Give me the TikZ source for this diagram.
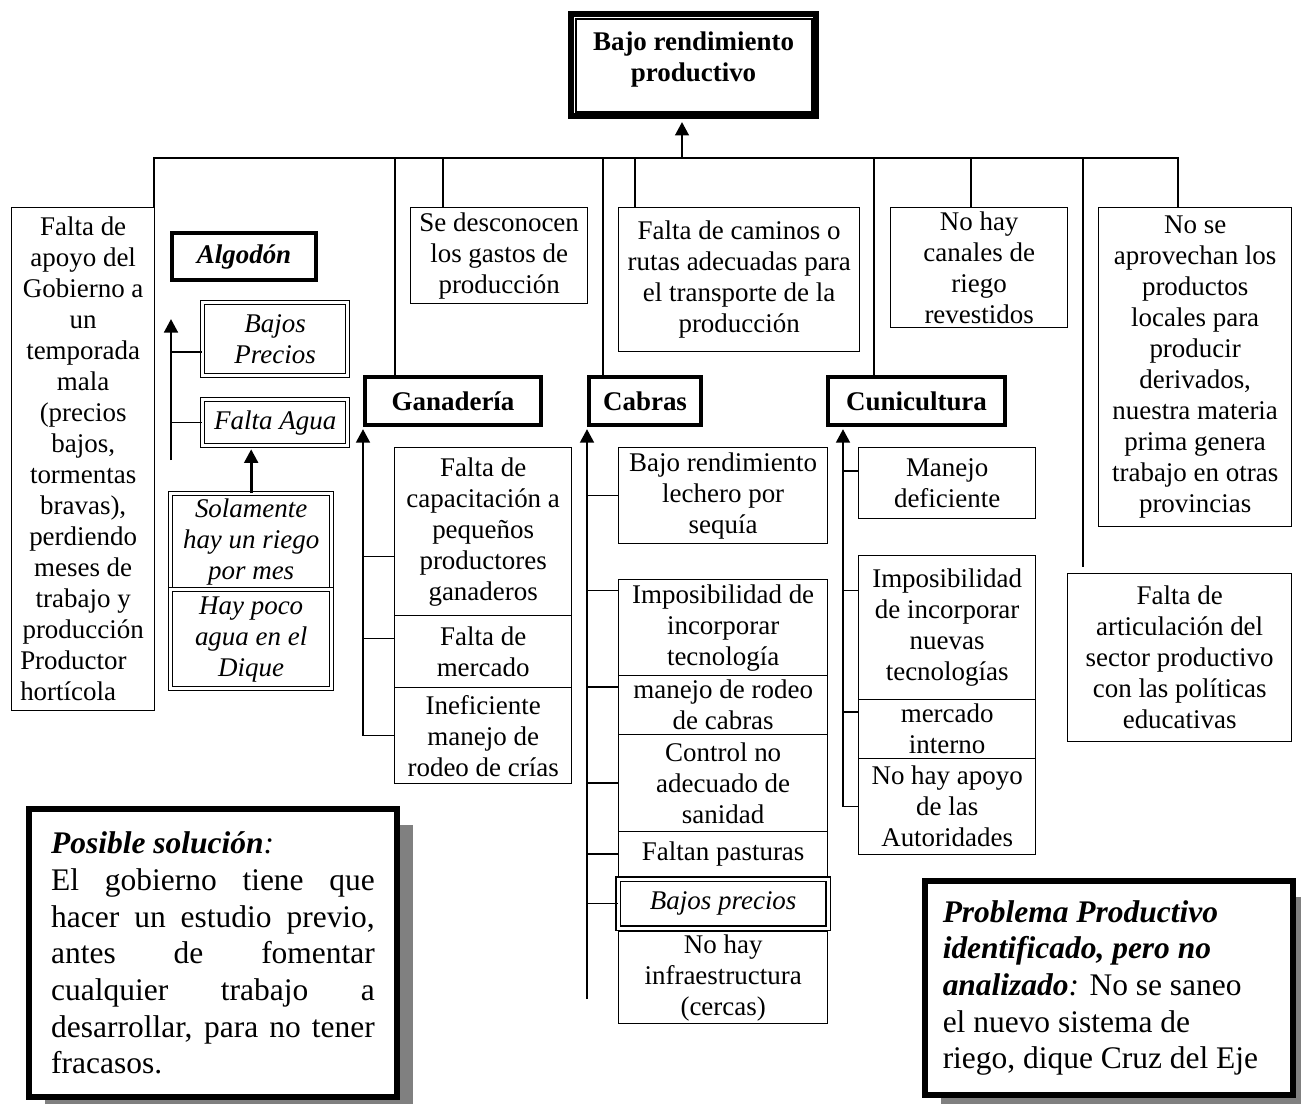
\documentclass[tikz,border=0pt]{standalone}
\usepackage{fontspec}
\setmainfont{Liberation Serif}
\usetikzlibrary{calc,arrows.meta,shadows}
\newlength\px
\setlength\px{0.445pt}
\tikzset{
caja/.style={
  draw,
  line width=0.6pt,
  align=center,
  inner sep=0pt,
  anchor=north west,
  font=\fontsize{12}{13.8}\selectfont
  },
tam/.style 2 args={minimum width=#1\px, minimum height=#2\px},
marco/.style={caja, line width=2.7pt, font=\fontsize{12}{13.8}\selectfont\bfseries},
grupo/.style={caja, line width=1.8pt, font=\fontsize{12}{13.8}\selectfont\bfseries},
doble/.style={caja, double, double distance=1.2pt, font=\fontsize{12}{13.8}\selectfont\itshape},
nota/.style={caja, line width=2.7pt, fill=white, align=flush left,
  font=\fontsize{14}{16.3}\selectfont,
  drop shadow={shadow xshift=7pt, shadow yshift=-7pt, fill=black!50, opacity=1}},
flecha/.style={line width=1.3pt, -{Triangle[width=6pt,length=6pt]}, shorten >=0.9pt},
linea/.style={line width=0.7pt}
}
\begin{document}
\begin{tikzpicture}[x=0.445pt, y=-0.445pt]
    \useasboundingbox (0,0) rectangle (1301,1104);
    \node [marco, tam={245}{102}] (raiz) at (568,11)
        {\parbox[c][66\px][t]{230\px}{\centering Bajo rendimiento\\productivo}};
    \draw [line width=0.7pt] ($(raiz.north west)+(8,8)$) rectangle ($(raiz.south east)+(-7,-7)$);

    % fila de arriba
    \node [caja, tam={143}{503}] (apoyo) at (11,207)
        {Falta de\\apoyo del\\Gobierno a\\un\\temporada\\mala\\(precios\\bajos,\\tormentas\\bravas),\\perdiendo\\meses de\\trabajo y\\producción\\\makebox[56pt][l]{Productor}\\\makebox[56pt][l]{hortícola}};
    \node [caja, tam={177}{96}] (desc) at (410,207) {Se desconocen\\los gastos de\\producción};
    \node [caja, tam={241}{144}] (cam) at (618,207) {Falta de caminos o\\rutas adecuadas para\\el transporte de la\\producción};
    \node [caja, tam={177}{120}] (can) at (890,207) {No hay\\canales de\\riego\\revestidos};
    \node [caja, tam={193}{319}] (aprov) at (1098,207)
        {No se\\aprovechan los\\productos\\locales para\\producir\\derivados,\\nuestra materia\\prima genera\\trabajo en otras\\provincias};
    \node [caja, tam={224}{168}] (art) at (1067,573) {Falta de\\articulación del\\sector productivo\\con las políticas\\educativas};

    % algodon
    \node [grupo, tam={144}{47}] (alg) at (170,231) {\textit{Algodón}};
    \node [doble, tam={145}{73}] (bp) at (202,302) {Bajos\\Precios};
    \node [doble, tam={145}{46}] (fa) at (202,399) {Falta Agua};
    \node [doble, tam={161}{96}] (sol) at (170,493) {Solamente\\hay un riego\\por mes};
    \node [doble, tam={161}{99}] (hay) at (170,589) {Hay poco\\agua en el\\Dique};

    % ganaderia
    \node [grupo, tam={176}{48}] (gan) at (363,375) {Ganadería};
    \node [caja, tam={177}{168}] (g1) at (394,447) {Falta de\\capacitación a\\pequeños\\productores\\ganaderos};
    \node [caja, tam={177}{72}] (g2) at (394,615) {Falta de\\mercado};
    \node [caja, tam={177}{96}] (g3) at (394,687) {Ineficiente\\manejo de\\rodeo de crías};

    % cabras
    \node [grupo, tam={112}{48}] (cab) at (587,375) {Cabras};
    \node [caja, tam={209}{96}] (c1) at (618,447) {Bajo rendimiento\\lechero por\\sequía};
    \node [caja, tam={209}{96}] (c2) at (618,579) {Imposibilidad de\\incorporar\\tecnología};
    \node [caja, tam={209}{59}] (c3) at (618,675) {manejo de rodeo\\de cabras};
    \node [caja, tam={209}{97}] (c4) at (618,734) {Control no\\adecuado de\\sanidad};
    \node [caja, tam={209}{45}] (c5) at (618,831) {Faltan pasturas};
    \node [caja, tam={209}{92}] (c7) at (618,931) {No hay\\infraestructura\\(cercas)};
    \node [doble, tam={210}{49}] (c6) at (617.5,878.5) {Bajos precios};

    % cunicultura
    \node [grupo, tam={177}{48}] (cuni) at (826,375) {Cunicultura};
    \node [caja, tam={177}{71}] (k1) at (858,447) {Manejo\\deficiente};
    \node [caja, tam={177}{144}] (k2) at (858,555) {Imposibilidad\\de incorporar\\nuevas\\tecnologías};
    \node [caja, tam={177}{59}] (k3) at (858,699) {mercado\\interno};
    \node [caja, tam={177}{96}] (k4) at (858,758) {No hay apoyo\\de las\\Autoridades};

    % notas
    \node [nota, align=justify, tam={368}{288}, text width=144pt] (solucion) at (26,806)
        {\textbf{\textit{Posible solución}}\textit{:}\\
        El gobierno tiene que\linebreak
        hacer un estudio previo,\linebreak
        antes de fomentar\linebreak
        cualquier trabajo a\linebreak
        desarrollar, para no tener\linebreak
        fracasos.};
    \node [nota, tam={368}{214}, text width=148pt] (problema) at (922,878)
        {\textbf{\textit{Problema Productivo}}\\
        \textbf{\textit{identificado, pero no}}\\
        \textbf{\textit{analizado}}\textit{:} No se saneo\\
        el nuevo sistema de\\
        riego, dique Cruz del Eje};

    % conectores
    \coordinate (bus) at (682,158);
    \draw [flecha, shorten >=1.3pt] (bus) -- (bus |- raiz.south);
    \foreach \n/\dx/\dy in {apoyo/143/0, gan/32/0, desc/33/0, cab/16/0, cam/17/0, cuni/48/0, can/81/0, art/16/-6, aprov/80/0}
    {
        \draw [linea] (bus) -| ($(\n.north west)+(\dx,\dy)$);
    }

    \coordinate (algpie) at (171,460);
    \coordinate (algtope) at (171,317);
    \draw [flecha] (algpie) -- (algtope);
    \foreach \n/\d in {bp/13, fa/0}
        \draw [linea] ($(\n.west)+(0,\d)$) coordinate (r) -- (r -| algpie);
    \draw [flecha, shorten >=1.3pt] (sol.north) -- (sol.north |- fa.south);

    \draw [flecha] (g3.west -| gan.south west) -- (gan.south west);
    \foreach \n/\d in {g1/25, g2/-13, g3/0}
        \draw [linea] ($(\n.west)+(0,\d)$) coordinate (r) -- (r -| gan.south west);

    \coordinate (cabpie) at (587,999);
    \draw [flecha] (cabpie) -- (cab.south west);
    \foreach \n/\d in {c1/0, c2/-37, c3/-18, c4/0, c5/0, c6/0}
        \draw [linea] ($(\n.west)+(0,\d)$) coordinate (r) -- (r -| cab.south west);

    \coordinate (cunieje) at ($(cuni.south west)+(17,0)$);
    \draw [flecha] (k4.west -| cunieje) -- (cunieje);
    \foreach \n/\d in {k1/-12, k2/-37, k3/-17, k4/0}
        \draw [linea] ($(\n.west)+(0,\d)$) coordinate (r) -- (r -| cunieje);

\end{tikzpicture}
\end{document}
